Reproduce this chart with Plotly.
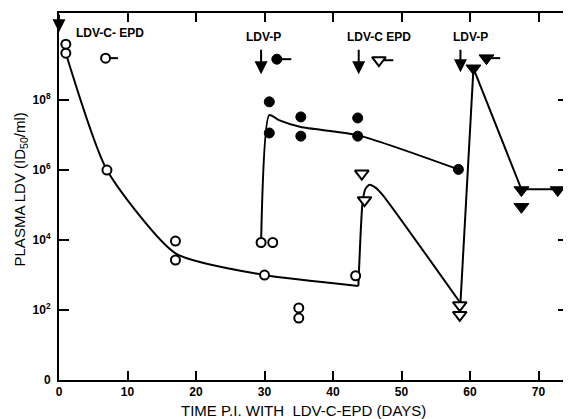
import plotly.graph_objects as go

# ---- data (days, log10 ID50/ml) ----
open_circ_x = [1, 1, 7, 17, 17, 30, 29.5, 31.2, 35, 35, 43.3]
open_circ_logy = [9.6, 9.34, 6.0, 3.97, 3.43, 3.0, 3.93, 3.93, 2.06, 1.77, 2.98]

filled_circ_x = [30.7, 30.7, 35.3, 35.3, 43.6, 43.6, 58.3]
filled_circ_logy = [7.95, 7.06, 7.52, 6.97, 7.49, 6.97, 6.02]

open_tri_x = [44.2, 44.6, 58.5, 58.5]
open_tri_logy = [5.9, 5.14, 2.14, 1.86]

filled_tri_x = [60.5, 67.5, 67.5, 72.8]
filled_tri_logy = [8.91, 5.43, 4.95, 5.43]

# fitted curves
curve_c_x = [1, 7, 17, 30, 43.7]
curve_c_logy = [9.34, 6.0, 3.62, 3.0, 2.69]
curve_t_x = [43.7, 44.3, 44.7, 45.3, 46.2, 47.2, 58.6]
curve_t_logy = [2.69, 5.05, 5.45, 5.58, 5.5, 5.3, 2.2]
curve_p_x = [29.5, 30.7, 32.1, 35.3, 43.6, 58.3]
curve_p_logy = [3.93, 7.57, 7.43, 7.23, 7.0, 6.02]
curve_p2_x = [58.6, 60.5, 67.5, 72.8]
curve_p2_logy = [2.2, 8.91, 5.45, 5.45]

# infection labels and arrows
label_text = ["LDV-C- EPD", "LDV-P", "LDV-C EPD", "LDV-P"]
label_x = [7.4, 29.9, 46.7, 60.0]
label_logy = [9.91, 9.8, 9.8, 9.8]
arrow_x = [0, 29.5, 43.75, 58.6]
arrow_logy = [9.94, 8.74, 8.74, 8.8]
arrow_len = [19, 26, 26, 24]

# legend keys (symbol with dash)
key_x = [6.8, 31.8, 46.7, 62.4]
key_x2 = [8.6, 33.9, 48.8, 64.4]
key_logy = [9.2, 9.17, 9.14, 9.2]

tick_vals_log = [0, 2, 4, 6, 8]
tick_text = ["0", "10<sup>2</sup>", "10<sup>4</sup>", "10<sup>6</sup>", "10<sup>8</sup>"]
x_ticks = [0, 10, 20, 30, 40, 50, 60, 70]

def p10(v):
    return [10 ** a for a in v]

fig = go.Figure()
line = dict(color="black", width=2)

for cx, cy, shape in [(curve_c_x, curve_c_logy, "spline"),
                      (curve_t_x, curve_t_logy, "spline"),
                      (curve_p_x, curve_p_logy, "spline"),
                      (curve_p2_x, curve_p2_logy, "linear")]:
    fig.add_trace(go.Scatter(x=cx, y=p10(cy), mode="lines",
                             line=dict(color="black", width=2, shape=shape, smoothing=0.6),
                             hoverinfo="skip"))

# legend key dashes
for i in range(4):
    fig.add_trace(go.Scatter(x=[key_x[i], key_x2[i]], y=p10([key_logy[i]] * 2),
                             mode="lines", line=line, hoverinfo="skip"))

mk_open_c = dict(symbol="circle", size=9, color="white", line=dict(color="black", width=2))
mk_fill_c = dict(symbol="circle", size=10, color="black", line=dict(color="black", width=1))
mk_open_t = dict(symbol="triangle-down", size=12, color="white", line=dict(color="black", width=2))
mk_fill_t = dict(symbol="triangle-down", size=13, color="black", line=dict(color="black", width=1))

fig.add_trace(go.Scatter(x=open_circ_x, y=p10(open_circ_logy), mode="markers", marker=mk_open_c))
fig.add_trace(go.Scatter(x=filled_circ_x, y=p10(filled_circ_logy), mode="markers", marker=mk_fill_c))
fig.add_trace(go.Scatter(x=open_tri_x, y=p10(open_tri_logy), mode="markers", marker=mk_open_t))
fig.add_trace(go.Scatter(x=filled_tri_x, y=p10(filled_tri_logy), mode="markers", marker=mk_fill_t))

# key symbols
key_markers = [mk_open_c, mk_fill_c, mk_open_t, mk_fill_t]
for i in range(4):
    fig.add_trace(go.Scatter(x=[key_x[i]], y=p10([key_logy[i]]), mode="markers",
                             marker=key_markers[i]))

annotations = []
for t, x, y in zip(label_text, label_x, label_logy):
    annotations.append(dict(x=x, y=y, xref="x", yref="y", text="<b>" + t + "</b>",
                            showarrow=False, font=dict(family="Liberation Sans", size=12, color="black")))
for x, y, L in zip(arrow_x, arrow_logy, arrow_len):
    annotations.append(dict(x=x, y=y, xref="x", yref="y", text="", showarrow=True,
                            ax=0, ay=-L, arrowhead=2, arrowsize=1.3, arrowwidth=2,
                            arrowcolor="black"))
annotations.append(dict(x=-0.076, y=0.52, xref="paper", yref="paper",
                        xanchor="center", yanchor="middle",
                        text="PLASMA LDV (ID<sub>50</sub>/ml)", textangle=-90, showarrow=False,
                        font=dict(family="Liberation Sans", size=15, color="black")))
annotations.append(dict(x=0.481, y=-0.082, xref="paper", yref="paper",
                        xanchor="center", yanchor="middle",
                        text="TIME P.I. WITH  LDV-C-EPD (DAYS)", showarrow=False,
                        font=dict(family="Liberation Sans", size=15, color="black")))

# page body adds an 8px offset, so the figure is sized to end at the window edge
fig.update_layout(
    width=563, height=411,
    margin=dict(l=51, r=1, t=5, b=39),
    paper_bgcolor="white", plot_bgcolor="white",
    showlegend=False,
    annotations=annotations,
    font=dict(family="Liberation Sans", color="black"),
)
fig.update_xaxes(range=[0, 74.3], tickvals=x_ticks, ticks="inside", ticklen=9, tickwidth=2,
                 tickcolor="black", showline=True, linecolor="black", linewidth=2,
                 mirror="ticks", showgrid=False, zeroline=False,
                 tickfont=dict(family="Liberation Sans", size=12, color="black", weight="bold"))
fig.update_yaxes(type="log", range=[0, 10.49], tickvals=p10(tick_vals_log),
                 ticktext=tick_text,
                 ticks="inside", ticklen=10, tickwidth=2, tickcolor="black",
                 showline=True, linecolor="black", linewidth=2, mirror="ticks",
                 showgrid=False, zeroline=False, ticklabelstandoff=4,
                 tickfont=dict(family="Liberation Sans", size=12, color="black", weight="bold"))

fig.write_html("out.html")
